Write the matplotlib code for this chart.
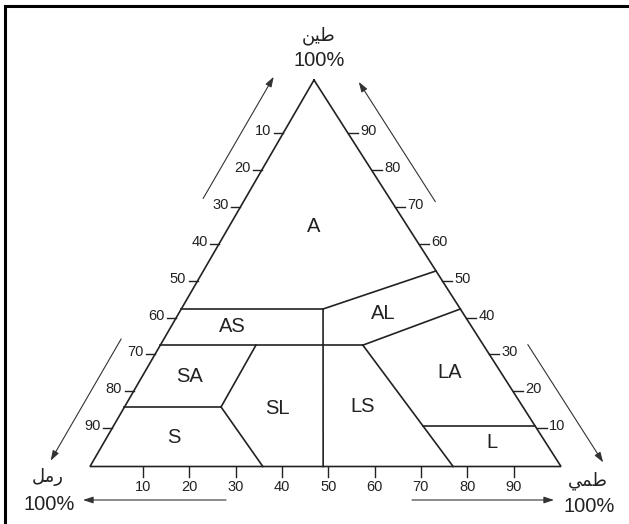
'''
soil texture triangle (arabic labels)
'''
# load packages -------------------------------------------
import numpy as np
import matplotlib.pyplot as plt

# data ----------------------------------------------------
# class boundaries, one line per entry, as (clay %, silt %):
boundary_clay = [
    [40.75, 40.75], [40.75, 50.6], [31.4, 40.75], [31.4, 31.4],
    [31.4, 15.4], [15.4, 15.4], [15.4, 0.0], [40.75, 0.0],
    [31.4, 0.0], [10.5, 10.5],
]
boundary_silt = [
    [0.0, 30.1], [30.1, 49.4], [43.0, 59.25], [0.0, 43.0],
    [20.3, 20.5], [0.0, 20.5], [20.5, 36.7], [30.1, 49.5],
    [43.0, 77.1], [65.7, 89.5],
]

# class names and where they sit (clay %, silt %):
class_names = ['A', 'AS', 'SA', 'S', 'SL', 'AL', 'LA', 'LS', 'L']
class_clay = [62.0, 36.1, 23.2, 7.4, 15.1, 39.7, 24.2, 15.6, 6.1]
class_silt = [17.9, 13.0, 10.0, 14.3, 32.5, 43.3, 64.9, 50.5, 82.5]

# tick labels on the three sides:
tick_values = [10, 20, 30, 40, 50, 60, 70, 80, 90]

# corner names (arabic, shaped forms in visual order):
name_clay = '\ufee6\ufef4\ufec3'   # طين
name_sand = '\ufede\ufee3\ufead'   # رمل
name_silt = '\ufef2\ufee4\ufec3'   # طمي

# layout --------------------------------------------------
base_w = 471.0    # width of the base
apex_x = 224.0    # horizontal position of the apex
tri_h = 386.5     # height of the triangle

# the printed scales are a little off the triangle itself:
side_mid, side_step = 48.07, 0.954
base_mid, base_step = 50.6, 0.983

ink = '#222222'


def tern(clay, silt):
    clay = np.asarray(clay, float) / 100
    silt = np.asarray(silt, float) / 100
    return silt * base_w + clay * apex_x, clay * tri_h


apex = np.array(tern(100, 0))
left = np.array(tern(0, 0))
right = np.array(tern(0, 100))

# plot ----------------------------------------------------
plt.rcParams['font.family'] = ['Liberation Sans', 'DejaVu Sans']

fig = plt.figure(figsize=(6.29, 5.24), dpi=100)
ax = fig.add_axes([0, 0, 1, 1])
ax.set_xlim(-90, 539)
ax.set_ylim(-57.5, 466.5)
ax.axis('off')

# outer frame (only left and top show):
ax.plot([-85, -85, 700], [-100, 460.5, 460.5], color='black', lw=2.2,
        solid_joinstyle='miter')

# triangle:
tx, ty = tern([100, 0, 0, 100], [0, 0, 100, 0])
ax.plot(tx, ty, color=ink, lw=1.2, solid_joinstyle='miter')

# class boundaries:
for c, s in zip(boundary_clay, boundary_silt):
    bx, by = tern(c, s)
    ax.plot(bx, by, color=ink, lw=1.2)

# class names:
for name, c, s in zip(class_names, class_clay, class_silt):
    lx, ly = tern(c, s)
    ax.text(lx, ly, name, fontsize=14.5, color=ink,
            ha='center', va='center')

# ticks ---------------------------------------------------
for v in tick_values:
    # left side (sand):
    c = side_mid - side_step * (v - 50)
    px, py = tern(c, 0)
    ax.plot([px - 9, px], [py, py], color=ink, lw=1.0)
    ax.text(px - 11.5, py + 2, str(v), fontsize=10.5, color=ink,
            ha='right', va='center')

    # right side (clay):
    c = side_mid + side_step * (v - 50)
    px, py = tern(c, 100 - c)
    ax.plot([px, px + 10], [py, py], color=ink, lw=1.0)
    ax.text(px + 12.5, py + 2, str(v), fontsize=10.5, color=ink,
            ha='left', va='center')

    # base (silt):
    s = base_mid + base_step * (v - 50)
    px, py = tern(0, s)
    ax.plot([px, px], [py, py - 10], color=ink, lw=1.0)
    ax.text(px, py - 20.5, str(v), fontsize=10.5, color=ink,
            ha='center', va='center')

# arrows --------------------------------------------------
arrow_kw = dict(arrowstyle='-|>,head_length=0.6,head_width=0.2',
                color='#333333', lw=0.8, shrinkA=0, shrinkB=0,
                mutation_scale=10)

# left edge runs apex -> left corner, outward normal points left:
d = (left - apex) / np.hypot(*(left - apex))
n = np.array([d[1], -d[0]])
for t0, t1, off in [(0.354, 0.039, 36.5), (0.718, 1.033, 37.0)]:
    a = apex + t0 * (left - apex) + off * n
    b = apex + t1 * (left - apex) + off * n
    ax.annotate('', xy=b, xytext=a, arrowprops=arrow_kw)

# right edge runs apex -> right corner, outward normal points right:
d = (right - apex) / np.hypot(*(right - apex))
n = np.array([-d[1], d[0]])
for t0, t1, off in [(0.366, 0.056, 36.7), (0.737, 1.042, 37.7)]:
    a = apex + t0 * (right - apex) + off * n
    b = apex + t1 * (right - apex) + off * n
    ax.annotate('', xy=b, xytext=a, arrowprops=arrow_kw)

# base arrows:
ax.annotate('', xy=(-7, -33.5), xytext=(136, -33.5), arrowprops=arrow_kw)
ax.annotate('', xy=(464, -33.5), xytext=(322, -33.5), arrowprops=arrow_kw)

# corner names --------------------------------------------
ax.text(229, 431, name_clay, fontsize=13, color=ink, ha='center',
        va='center', family=['DejaVu Sans'])
ax.text(229, 406, '100%', fontsize=14.5, color=ink, ha='center', va='center')
ax.text(-42, -10.5, name_sand, fontsize=13, color=ink, ha='center',
        va='center', family=['DejaVu Sans'])
ax.text(-41, -38.5, '100%', fontsize=14.5, color=ink, ha='center',
        va='center')
ax.text(498, -14.5, name_silt, fontsize=13, color=ink, ha='center',
        va='center', family=['DejaVu Sans'])
ax.text(499, -40.5, '100%', fontsize=14.5, color=ink, ha='center',
        va='center')

# save plot:
fig.savefig('out.png', dpi=100)

# finish routine ------------------------------------------
